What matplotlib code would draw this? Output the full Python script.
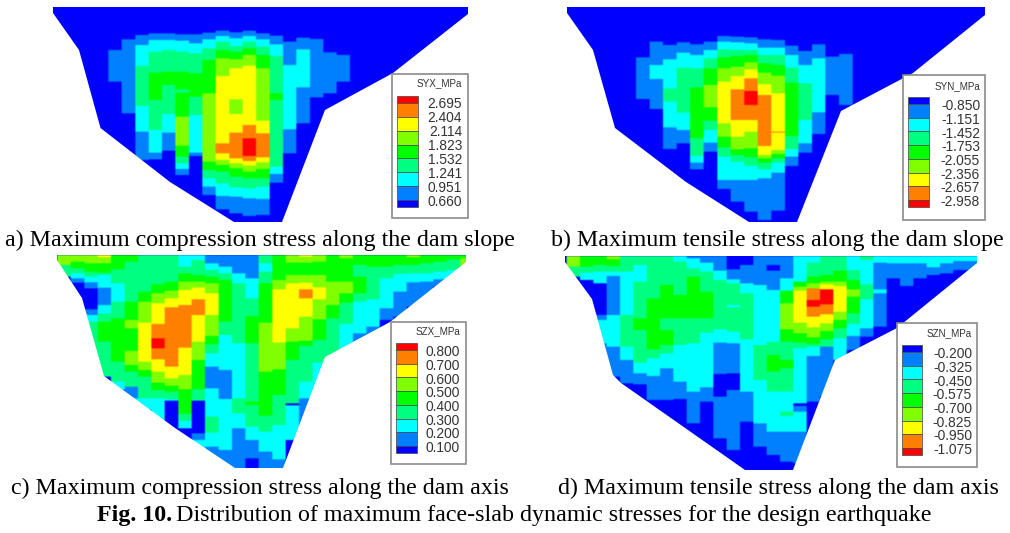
import matplotlib
matplotlib.use('Agg')
import matplotlib.pyplot as plt
from matplotlib.colors import ListedColormap
from matplotlib.patches import Polygon, Rectangle
import numpy as np

colors = ['#0000ff', '#0080ff', '#00ffff', '#00ff80', '#00ff00',
          '#80ff00', '#ffff00', '#ff8000', '#ff0000']

# stress band per mesh column, top to bottom, and where the bands change
levels_a = [[1], [1], [1,2,3,2,1], [1,2,3,4,3,2,1], [1,2,3,4,3,2,1],
            [1,2,3,4,3,4,5,4,3,2,1], [1,2,3,4,3,2,1], [1,2,3,4,5,4,3,2,1],
            [1,2,3,4,5,6,7,6,5,4,3,2,1], [1,2,3,4,5,6,5,6,7,6,5,4,3,2,1],
            [1,2,3,4,5,6,7,8,7,6,5,4,3,2,1], [1,2,3,4,5,6,7,6,5,4,3,2,1],
            [1,2,3,4,3,2,1], [1,2,1], [1,2,1], [1], [1], [1]]
edges_a = [[150,245], [118,340], [105,135,198,318,395,480],
           [100,120,155,218,300,390,458,478], [100,120,150,215,255,342,398,452],
           [103,122,155,215,268,278,350,437,470,490,507,525],
           [103,130,160,220,290,345,458,468],
           [98,118,145,180,280,485,510,535,560,585],
           [92,108,125,150,175,228,430,460,480,495,515,550,588,628],
           [97,115,138,155,178,205,298,342,398,475,490,505,530,562,590,640],
           [92,108,125,145,165,197,375,415,468,483,497,515,535,565,595,648],
           [100,118,140,165,205,362,400,472,487,507,535,560,597,645],
           [107,133,168,280,300,500,522,548], [125,195,388,460], [113,148,262,370],
           [117,292], [157,280], [165,245]]

levels_b = [[1], [1,2,1], [1,2,3,2,1], [1,2,3,2,1], [1,2,3,4,3,2,1],
            [1,2,3,4,5,4,3,2,1], [1,2,3,4,5,6,5,4,3,2,1],
            [1,2,3,4,5,6,7,6,5,4,3,2,1], [1,2,3,4,5,6,7,8,7,6,5,4,3,2,1],
            [1,2,3,4,5,6,7,6,5,4,3,2,1], [1,2,3,4,5,6,7,6,5,4,3,2,1],
            [1,2,3,4,3,2,1], [1,2,3,2,1], [1,2,1], [1], [1]]
edges_b = [[172,297], [125,195,237,327], [135,178,265,305,382,447],
           [127,158,203,338,390,430], [133,165,205,262,415,468,488,508],
           [125,150,175,205,255,322,362,390,428,455],
           [108,125,148,172,205,245,370,410,442,470,540,567],
           [110,127,150,168,200,228,268,360,410,448,465,485,540,605],
           [112,130,150,165,187,208,235,273,315,360,395,445,472,498,540,635],
           [118,143,165,190,218,253,285,438,465,475,488,508,535,660],
           [120,143,165,195,227,280,395,398,450,462,475,488,518,632],
           [137,165,203,248,408,447,470,498], [153,195,250,360,430,458],
           [133,175,337,402], [170,285], [162,315]]

levels_c = [[5,3], [5,4,3,2,1,0], [5,4,3,2,1,0,1,2,3], [6,5,4,3,2,1,2,3,4,3],
            [4,3,2,3,4,3,2], [4,3,4,5,4,5,4,3,1,2], [3,4,5,6,5,4,3,2],
            [3,4,5,6,7,8,7,6,5,4,3,2], [3,4,5,6,7,6,5,4,3,2,0],
            [2,3,4,5,6,7,6,5,4,3,2,0], [2,3,4,5,6,7,6,5,4,3,0,1,2],
            [1,2,3,4,5,6,5,4,3,2,1,2,3,2,1], [1,2,3,4,3,2,1,2,1],
            [1,2,3,2,3,2,1], [1,2,3,4,3,4,3,2,1,0], [3,2,3,4,5,4,3,2,1],
            [4,5,6,5,4,3,2,1], [5,4,5,6,5,4,3,0,2], [6,5,4,5,6,7,6,5,4,3,2,1],
            [5,4,5,6,5,4,3,2], [4,5,4,3], [5,4,5,4,3,2], [4,3,4,3,2,1],
            [4,3,2,1], [4,3,2,1,0], [4,3,2,1], [5,4,3,2,1], [4,3,2,1],
            [4,3,2,1], [4,3,2], [4,5]]
edges_c = [[15,45,80], [15,35,55,70,85,98,180], [15,40,65,80,97,115,178,195,215,380],
           [15,22,40,68,75,113,165,190,215,275,380],
           [15,58,100,155,205,335,395,420],
           [15,35,155,210,235,303,345,365,410,445,470],
           [15,125,155,218,335,360,380,445,480],
           [15,103,130,160,222,265,295,328,365,398,420,445,515],
           [15,95,122,145,172,350,385,407,425,448,452,540],
           [15,50,70,95,120,165,293,375,418,492,513,535,570],
           [15,30,75,95,113,148,195,275,330,418,452,550,570,600],
           [15,40,60,80,100,130,195,258,283,310,350,415,500,548,590,660],
           [15,50,70,90,215,255,360,447,600,660], [15,70,100,280,445,490,535,660],
           [15,85,145,198,280,455,465,530,570,625,660],
           [15,40,65,100,218,365,497,545,605,660],
           [15,90,118,278,358,435,525,628,660],
           [15,38,75,100,235,275,330,460,466,570],
           [15,20,38,75,98,118,145,200,272,288,395,445,530],
           [15,35,75,112,148,208,270,338,480], [15,95,165,205,360],
           [15,25,95,130,158,222,320], [15,45,80,130,155,250,290],
           [15,50,148,230,280], [15,50,85,175,210,240], [15,45,72,125,200],
           [15,22,45,70,97,170], [15,40,70,95,150], [15,35,65,88,110],
           [15,28,60,90], [15,25,60]]

levels_d = [[5,3], [4,3,2,0], [4,3,2,0,1,2,1], [5,4,3,2,1,2,1], [3,2,3,2,1,0],
            [3,2,3,4,3,2,1,0], [3,4,3,2,1,0], [3,4,3,4,3,2,1,0], [2,3,4,3,2,1,0],
            [1,2,3,4,3,2,1,0], [1,2,3,4,3,2,1,0], [1,2,3,2,1,0,1,0],
            [0,1,2,3,2,3,2,1,0,1,0], [0,1,2,3,2,1,0], [1,2,3,2,1,0],
            [1,0,1,2,3,4,3,2,1,0], [1,2,4,5,4,3,4,3,2,3,2,1,0],
            [2,4,5,6,5,4,3,2,0,1,2,1], [2,3,4,5,7,8,7,6,5,4,3,2,1,0],
            [3,4,5,6,8,7,6,5,4,3,1], [3,4,5,6,5,4,3,2], [2,3,4,5,4,3,2,1,0],
            [3,2,3,2,1,0], [2,1,2,1,0], [2,1,0], [2,1,0], [2,1,0], [2,1,0],
            [2,1,0], [2,1,0], [2,1,0]]
edges_d = [[18,50,80], [18,50,68,90,180], [18,45,65,100,195,210,280,360],
           [18,28,48,65,78,195,290,380], [18,65,195,290,330,400,420],
           [18,45,95,205,240,338,370,403,450], [18,145,298,325,378,450,480],
           [18,105,205,240,285,310,355,450,520], [18,35,135,205,285,395,447,545],
           [18,25,55,80,205,280,425,520,560], [18,38,65,125,205,248,412,455,590],
           [18,62,90,238,278,372,440,565,610],
           [18,58,88,100,165,172,245,280,370,420,600,640],
           [18,45,100,130,268,425,515,660], [18,105,285,390,520,590,660],
           [18,45,62,120,275,315,365,425,545,615,660],
           [18,85,122,160,238,275,330,355,425,485,498,545,635,660],
           [18,95,110,122,218,250,278,295,460,468,485,545,640],
           [18,38,80,100,115,150,170,200,232,262,282,290,318,455,530],
           [18,75,95,103,118,163,193,220,243,268,290,440],
           [18,62,95,108,185,210,235,265,330], [18,60,90,118,140,190,222,258,300,330],
           [18,30,103,148,235,260,300], [18,38,118,130,230,270], [18,40,85,230],
           [18,40,108,200], [18,40,85,180], [18,52,75,150], [18,40,70,120],
           [18,33,60,100], [18,33,60,80]]

# dam outline of each panel, in reference pixels
outline_a = [(53,7),(53,13),(79,50),(100.5,128),(170,182),(234,222),(282,222),
             (325,110),(393,73),(468,14),(468,7)]
outline_b = [(567,7),(567,13),(593,50),(615,128),(686,182),(749,222),(797,222),
             (841,111),(913,73),(985,15),(985,7)]
outline_c = [(57,255),(57,260),(82,298),(104,376),(175,428),(235,468),(283,468),
             (325,357),(390,322),(466,262),(466,255)]
outline_d = [(565,256),(565,262),(592,299),(613,375),(621,383),(745,470),(793,470),
             (835,360),(897,328),(977,263),(977,256)]

names = ['SYX_MPa', 'SYN_MPa', 'SZX_MPa', 'SZN_MPa']
ticks_a = ['2.695', '2.404', '2.114', '1.823', '1.532', '1.241', '0.951', '0.660']
ticks_b = ['-0.850', '-1.151', '-1.452', '-1.753', '-2.055', '-2.356', '-2.657', '-2.958']
ticks_c = ['0.800', '0.700', '0.600', '0.500', '0.400', '0.300', '0.200', '0.100']
ticks_d = ['-0.200', '-0.325', '-0.450', '-0.575', '-0.700', '-0.825', '-0.950', '-1.075']

captions = ['a) Maximum compression stress along the dam slope',
            'b) Maximum tensile stress along the dam slope',
            'c) Maximum compression stress along the dam axis',
            'd) Maximum tensile stress along the dam axis']

fig = plt.figure(figsize=(10.10, 5.33), dpi=100)
ax = fig.add_axes([0, 0, 1, 1])
cmap = ListedColormap(colors)


def soften(rgb):
    # the reference is a slightly blurred scan, box filter about 1 px wide
    for axis in (0, 1):
        rgb = sum(np.roll(rgb, k, axis=axis) for k in range(-2, 3)) / 5
    return rgb


def draw_panel(levels, edges, outline, ox, oy, x0, step):
    # raster is in 1/3 pixel units, same as the zoom crops
    grid = np.zeros((675, 1320), dtype=int)
    for i, (lv, ed) in enumerate(zip(levels, edges)):
        a = int(round(x0 + i * step))
        b = int(round(x0 + (i + 1) * step))
        for k, v in enumerate(lv):
            grid[ed[k]:ed[k + 1], a:b] = v
    rgb = soften(cmap(grid, alpha=None)[:, :, :3])
    im = ax.imshow(rgb, aspect='auto', extent=(ox, ox + 440, oy + 225, oy),
                   interpolation='antialiased')
    im.set_clip_path(Polygon(outline, closed=True, transform=ax.transData))


def draw_legend(name, ticks, order, box, bar, right, title_y, first_y):
    ax.add_patch(Rectangle((box[0], box[1]), box[2] - box[0], box[3] - box[1],
                           facecolor='white', edgecolor='#8a8a8a', lw=1.2, zorder=5))
    step = (bar[3] - bar[1]) / 8
    tops = [bar[1]] + [bar[1] + step * (i + 0.5) for i in range(8)]
    bots = tops[1:] + [bar[3]]
    for t, b, c in zip(tops, bots, order):
        ax.bar(bar[0], b - t, bottom=t, width=bar[2] - bar[0], align='edge',
               color=colors[c], edgecolor='#444444', lw=0.5, zorder=6)
    ax.text(right, title_y, name, ha='right', va='center', fontsize=7.1,
            family='Liberation Sans', color='#333333', zorder=7)
    for i, t in enumerate(ticks):
        ax.text(right, first_y + i * step, t, ha='right', va='center', fontsize=9.9,
                family='Liberation Sans', color='#333333', zorder=7)


draw_panel(levels_a, edges_a, outline_a, 40, 0, 205, 40.3)
draw_panel(levels_b, edges_b, outline_b, 560, 0, 228, 40.6)
draw_panel(levels_c, edges_c, outline_c, 50, 250, 22, 40.3)
draw_panel(levels_d, edges_d, outline_d, 560, 250, 20, 40)

down = list(range(8, -1, -1))
up = list(range(9))
draw_legend(names[0], ticks_a, down, (392, 74, 468, 218), (397, 96, 418, 207), 462, 83, 104.5)
draw_legend(names[1], ticks_b, up, (903, 75, 985, 220), (908, 97, 929, 207), 980, 86, 106)
draw_legend(names[2], ticks_c, down, (391, 322, 466, 464), (396, 343, 417, 453), 460, 331, 352)
draw_legend(names[3], ticks_d, up, (897, 323, 977, 467), (902, 345, 922, 455), 972, 333, 354)

for s, x, y in zip(captions, [5, 551, 11, 558], [246, 246, 494, 494]):
    ax.text(x, y, s, ha='left', va='baseline', fontsize=17.3, family='Liberation Serif')
ax.text(97, 521, 'Fig. 10.', ha='left', va='baseline', fontsize=17.3,
        family='Liberation Serif', weight='bold')
ax.text(176, 521, 'Distribution of maximum face-slab dynamic stresses for the design earthquake',
        ha='left', va='baseline', fontsize=17.3, family='Liberation Serif')

ax.set_xlim(0, 1010)
ax.set_ylim(533, 0)
ax.axis('off')
fig.savefig('out.png', dpi=100)
